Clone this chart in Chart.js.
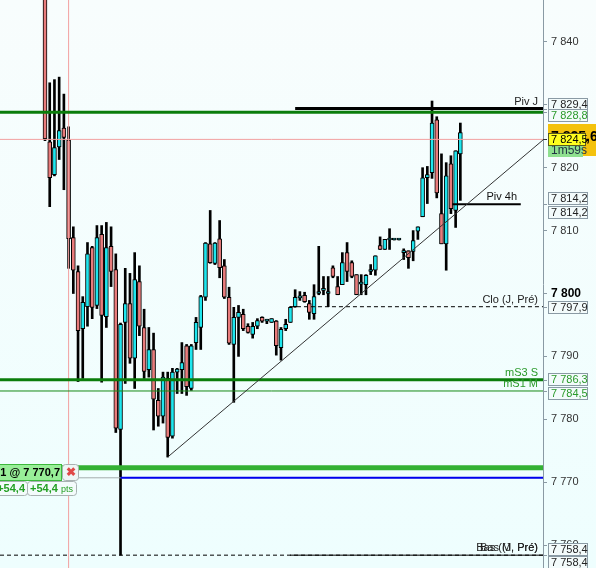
<!DOCTYPE html>
<html><head><meta charset="utf-8">
<script src="https://cdn.jsdelivr.net/npm/chart.js@4/dist/chart.umd.min.js"></script>
<style>html,body{margin:0;padding:0;background:#f2fdfd;}canvas{display:block;}</style>
</head><body>
<canvas id="c" width="596" height="568"></canvas>
<script>
// ---- data ----
const opens = [7852,7824.1,7818.9,7823.3,7826.3,7824.4,7808.9,7803.5,7794.4,7797.9,
7807.3,7798.1,7809.4,7796.3,7807.5,7803.8,7778.4,7795.4,7798.4,7789.7,
7801.9,7794.6,7787.9,7791.1,7783.0,7780.5,7786.5,7777.3,7787.5,7787.9,
7791.7,7784.9,7792.2,7794.6,7799.4,7807.9,7804.8,7808.7,7804.4,7799.4,
7791.9,7796.2,7796.7,7794.8,7793.5,7794.8,7796.2,7795.6,7795.4,7795.6,
7791.4,7794.4,7795.4,7797.9,7799.3,7799.7,7798.4,7796.8,7800.0,7800.5,
7800.0,7804.1,7801.1,7801.4,7806.5,7804.9,7803.0,7801.5,7801.4,7803.5,
7803.7,7807.6,7807.0,7808.5,7808.5,7808.5,7806.5,7806.8,7806.7,7809.9,
7812.2,7818.4,7819.2,7827.6,7812.7,7807.9,7820.6,7813.2,7822.2];
const highs = [7856,7833.5,7834.0,7834.4,7831.7,7826.5,7810.6,7804.4,7799.5,7808.1,
7807.5,7810.8,7810.8,7811.3,7810.6,7806.3,7795.3,7804.0,7803.2,7806.5,
7804.4,7797.5,7794.6,7793.7,7784.9,7787.5,7787.5,7788.1,7788.1,7792.2,
7791.9,7791.9,7796.2,7799.7,7808.1,7813.2,7808.1,7811.6,7805.4,7801.0,
7797.8,7798.1,7797.5,7795.2,7795.4,7796.0,7796.3,7795.9,7796.0,7795.7,
7794.6,7795.9,7797.9,7800.6,7800.3,7800.2,7798.9,7801.4,7807.5,7802.7,
7802.7,7804.4,7802.7,7806.5,7808.1,7805.2,7803.0,7803.0,7803.0,7804.6,
7806.0,7809.0,7808.6,7810.3,7808.7,7808.7,7807.1,7806.8,7810.0,7810.6,
7820.0,7820.2,7830.6,7828.1,7822.2,7820.8,7821.9,7822.7,7827.1];
const lows = [7824.3,7813.8,7818.7,7821.3,7816.5,7804.0,7800.0,7786.0,7786.5,7794.8,
7796.0,7797.6,7785.9,7794.6,7801.1,7777.9,7758.4,7785.7,7788.9,7784.9,
7793.3,7786.5,7786.7,7778.3,7778.9,7779.4,7774.0,7777.0,7784.1,7784.1,
7783.8,7784.6,7791.1,7791.1,7798.9,7804.8,7804.6,7802.5,7799.2,7791.9,
7782.7,7790.0,7794.1,7793.7,7792.9,7794.4,7795.4,7795.2,7795.4,7790.2,
7789.4,7794.1,7795.4,7797.8,7798.9,7798.6,7795.9,7795.9,7799.8,7799.8,
7797.9,7802.5,7799.8,7801.4,7801.9,7802.5,7799.8,7799.8,7799.8,7803.0,
7802.9,7807.0,7807.0,7807.0,7808.5,7808.5,7805.4,7804.0,7805.2,7808.6,
7812.2,7814.3,7818.3,7815.2,7807.9,7803.7,7812.7,7810.5,7814.8];
const closes = [7824.6,7818.4,7823.2,7825.9,7824.8,7808.7,7803.7,7794.1,7798.6,7806.3,
7797.8,7808.9,7796.5,7807.3,7803.5,7778.6,7795.1,7798.4,7789.7,7802.2,
7794.8,7787.6,7791.1,7783.2,7780.5,7786.7,7777.1,7787.5,7788.0,7789.0,
7785.2,7791.7,7795.4,7799.5,7808.0,7804.9,7808.0,7804.1,7799.4,7792.1,
7796.2,7797.0,7794.4,7793.8,7794.8,7795.7,7795.6,7795.9,7796.0,7791.7,
7794.3,7795.1,7797.8,7799.4,7799.5,7798.7,7797.0,7799.5,7800.2,7800.6,
7800.1,7802.7,7799.8,7804.9,7803.5,7802.7,7799.8,7801.6,7802.9,7803.6,
7806.0,7807.0,7808.6,7808.6,7808.6,7808.6,7806.6,7805.7,7808.4,7810.6,
7818.4,7818.9,7827.1,7816.0,7807.9,7818.7,7813.5,7822.7,7825.6];

const yTicks = [7760,7770,7780,7790,7800,7810,7820,7830,7840];
const levelNames  = ['Piv J','Piv 4h','Clo (J, Pré)','mS3 S','mS1 M','Bas (J, Pré)','Bas (M, Pré)'];
const levelValues = [7829.4, 7814.2, 7797.9, 7786.3, 7784.5, 7758.4, 7758.4];
const greenLevel = 7828.8;
const secondPiv4h = 7814.2;
const lastPrice = 7825.6;
const crossPrice = 7824.5;
const crossIndex = 5;
const timerText = '1m59s';
const entryPrice = 7770.7;
const stopPrice = 7772.3;
const entryIndex = 16;
const tradeQty = 1;
const tradePts = 54.4;
const trendIdx = [26, 105.5];
const trendVal = [7774.0, 7824.4];

// ---- helpers ----
const FONT = 'Liberation Sans, Arial, sans-serif';
const X_MIN = -9.534, X_MAX = 105.51;
const fmt = (v, d) => { const s = v.toFixed(d).replace('.', ','); const ip = Math.floor(v); return Math.floor(ip/1000) + ' ' + s.slice(String(Math.floor(ip/1000)).length); };
const idx = opens.map((_, i) => i);
const CYAN = '#1fe6ee', PINK = '#e87c7c';

function hline(v, from, to, color, width, dash, order) {
  return { type: 'line', data: [{x: from, y: v}, {x: to, y: v}], borderColor: color, borderWidth: width,
    borderDash: dash || [], pointRadius: 0, fill: false, order: order === undefined ? 1 : order, tension: 0 };
}

const datasets = [
  { type: 'bar', data: idx.map(i => ({x: i, y: [lows[i], highs[i]]})), backgroundColor: '#000',
    barThickness: 2, grouped: false, order: 10 },
  { type: 'bar', data: idx.map(i => ({x: i, y: [opens[i], closes[i]]})),
    backgroundColor: idx.map(i => closes[i] >= opens[i] ? CYAN : PINK), borderColor: '#000', borderWidth: 1,
    borderSkipped: false, barThickness: 4, minBarLength: 2, grouped: false, order: 9 },
  hline(crossPrice, X_MIN, X_MAX, '#f2a0a0', 1, null, 5),
  { type: 'line', data: [{x: crossIndex, y: 7700}, {x: crossIndex, y: 7900}], borderColor: '#f2a0a0', borderWidth: 1, pointRadius: 0, order: 5 },
  hline(levelValues[5], X_MIN, X_MAX, '#000', 1, [4, 3], 2),
  hline(levelValues[6], 51.9, X_MAX, '#000', 1, null, 2),
  hline(levelValues[2], 51.9, X_MAX, '#000', 1, [4, 3], 2),
  hline(levelValues[4], X_MIN, X_MAX, '#168a16', 1, null, 2),
  hline(levelValues[3], X_MIN, X_MAX, '#0b7d0b', 3, null, 2),
  hline(greenLevel, X_MIN, X_MAX, '#0b7d0b', 3, null, 2),
  hline(levelValues[0], 53, X_MAX, '#000', 3, null, 1),
  hline(levelValues[1], 86.3, 100.8, '#000', 2, null, 1),
  hline(stopPrice, X_MIN, X_MAX, '#33b133', 5, null, 1),
  hline(entryPrice, X_MIN, X_MAX, '#a4adad', 1, null, 1),
  hline(entryPrice, entryIndex, X_MAX, '#0000ee', 2, null, 0),
  { type: 'line', data: [{x: trendIdx[0], y: trendVal[0]}, {x: trendIdx[1], y: trendVal[1]}], borderColor: '#333', borderWidth: 1, pointRadius: 0, order: 0 }
];

function rrect(ctx, x, y, w, h, r) {
  ctx.beginPath(); ctx.moveTo(x + r, y); ctx.lineTo(x + w - r, y); ctx.quadraticCurveTo(x + w, y, x + w, y + r);
  ctx.lineTo(x + w, y + h - r); ctx.quadraticCurveTo(x + w, y + h, x + w - r, y + h); ctx.lineTo(x + r, y + h);
  ctx.quadraticCurveTo(x, y + h, x, y + h - r); ctx.lineTo(x, y + r); ctx.quadraticCurveTo(x, y, x + r, y); ctx.closePath();
}

const overlay = {
  id: 'overlay',
  beforeDraw(chart) {
    const {ctx, width, height} = chart;
    const g = ctx.createLinearGradient(0, 0, 0, height);
    g.addColorStop(0, '#f8fdfd'); g.addColorStop(1, '#eefefe');
    ctx.save(); ctx.fillStyle = g; ctx.fillRect(0, 0, width, height); ctx.restore();
  },
  afterDraw(chart) {
    const {ctx} = chart; const ys = chart.scales.y; const area = chart.chartArea;
    const py = v => ys.getPixelForValue(v);
    ctx.save();
    // level names
    ctx.font = '11px ' + FONT; ctx.textBaseline = 'middle'; ctx.textAlign = 'right';
    const nameX = [538, 517, 538, 538, 538, 538, 538];
    const nameCol = ['#222', '#111', '#222', '#2a9a2a', '#2a9a2a', '#222', '#222'];
    levelNames.forEach((n, i) => { ctx.fillStyle = nameCol[i]; ctx.fillText(n, nameX[i], py(levelValues[i]) - 7); });

    // right boxes
    const bx = area.right + 5;
    const box = (v, txt, col, dy, bg, border, font) => {
      const y = py(v) + dy;
      ctx.strokeStyle = '#8a9aa4'; ctx.lineWidth = 1; ctx.beginPath(); ctx.moveTo(area.right, Math.round(py(v)) + 0.5); ctx.lineTo(area.right + 4, Math.round(py(v)) + 0.5); ctx.stroke();
      ctx.fillStyle = bg || '#f3fbfb'; ctx.fillRect(bx, Math.round(y - 6), 40, 12);
      ctx.strokeStyle = border || '#8a9aa4'; ctx.strokeRect(bx + 0.5, Math.round(y - 6) + 0.5, 39, 12);
      ctx.fillStyle = col; ctx.font = font || ('11px ' + FONT); ctx.textAlign = 'left'; ctx.textBaseline = 'middle';
      ctx.fillText(txt, bx + 3, Math.round(y) + 1);
    };
    box(levelValues[0], fmt(levelValues[0], 1), '#222', -5);
    box(greenLevel, fmt(greenLevel, 1), '#2a9a2a', 3);
    box(levelValues[1], fmt(levelValues[1], 1), '#222', -6);
    box(secondPiv4h, fmt(secondPiv4h, 1), '#222', 8);
    box(levelValues[2], fmt(levelValues[2], 1), '#222', 0);
    box(levelValues[3], fmt(levelValues[3], 1), '#2a9a2a', -1);
    box(levelValues[4], fmt(levelValues[4], 1), '#2a9a2a', 2);
    box(levelValues[5], fmt(levelValues[5], 1), '#222', -6);
    box(levelValues[6], fmt(levelValues[6], 1), '#222', 7);

    // last price (orange), timer (green), cross price (yellow)
    const lp = py(lastPrice);
    ctx.fillStyle = '#f4c20d'; ctx.fillRect(bx, Math.round(lp - 8), 60, 32);
    ctx.fillStyle = '#000'; ctx.font = 'bold 14px ' + FONT; ctx.textAlign = 'left'; ctx.textBaseline = 'alphabetic';
    ctx.fillText(fmt(lastPrice, 1), bx + 3, Math.round(lp) + 9);
    ctx.fillStyle = '#8fe08f'; ctx.fillRect(bx, Math.round(lp + 12), 35, 13);
    ctx.fillStyle = '#223344'; ctx.font = '12px ' + FONT; ctx.textBaseline = 'middle';
    ctx.fillText(timerText, bx + 3, Math.round(lp + 19));
    const cp = py(crossPrice);
    ctx.fillStyle = '#ffff1e'; ctx.fillRect(bx, Math.round(cp - 6), 38, 12);
    ctx.strokeStyle = '#5a5a20'; ctx.strokeRect(bx + 0.5, Math.round(cp - 6) + 0.5, 37, 12);
    ctx.fillStyle = '#000'; ctx.font = '11px ' + FONT; ctx.fillText(fmt(crossPrice, 1), bx + 3, Math.round(cp) + 1);
    ctx.strokeStyle = '#333'; ctx.beginPath(); ctx.moveTo(area.right, Math.round(cp) + 0.5); ctx.lineTo(area.right + 4, Math.round(cp) + 0.5); ctx.stroke();

    // trade widget
    const ep = Math.round(py(entryPrice));
    const top = ep - 14;
    ctx.fillStyle = '#98ee98'; ctx.fillRect(-5, top, 67, 17);
    ctx.strokeStyle = '#3cb83c'; ctx.lineWidth = 1; ctx.strokeRect(-4.5, top + 0.5, 66, 16);
    ctx.fillStyle = '#000'; ctx.font = 'bold 11px ' + FONT; ctx.textAlign = 'right'; ctx.textBaseline = 'middle';
    ctx.fillText(tradeQty + ' @ ' + fmt(entryPrice, 1), 60, top + 9);
    ctx.fillStyle = '#eef6f6'; rrect(ctx, 62.5, top + 0.5, 16, 16, 3); ctx.fill();
    ctx.strokeStyle = '#a8b2b2'; ctx.stroke();
    ctx.fillStyle = '#e04848'; ctx.font = 'bold 12px ' + FONT; ctx.textAlign = 'center';
    ctx.fillText('\u2716', 71, top + 9);
    // pts boxes
    const t2 = top + 17;
    ctx.fillStyle = '#f3fbfb'; rrect(ctx, -5.5, t2 + 0.5, 33, 14, 3); ctx.fill(); ctx.strokeStyle = '#a8b2b2'; ctx.stroke();
    rrect(ctx, 27.5, t2 + 0.5, 49, 14, 3); ctx.fillStyle = '#f3fbfb'; ctx.fill(); ctx.stroke();
    const ptsTxt = '+' + tradePts.toFixed(1).replace('.', ',');
    ctx.fillStyle = '#24a024'; ctx.font = 'bold 11px ' + FONT; ctx.textAlign = 'right';
    ctx.fillText(ptsTxt, 25, t2 + 8);
    ctx.textAlign = 'left'; ctx.fillText(ptsTxt, 30, t2 + 8);
    ctx.font = '9px ' + FONT; ctx.fillText('pts', 61, t2 + 9);
    ctx.restore();
  }
};

new Chart(document.getElementById('c'), {
  type: 'bar',
  data: { datasets },
  options: {
    responsive: false, animation: false, devicePixelRatio: 1,
    layout: { padding: 0 },
    plugins: { legend: { display: false }, tooltip: { enabled: false } },
    scales: {
      x: { type: 'linear', min: X_MIN, max: X_MAX, offset: false, display: false },
      y: {
        position: 'right', min: 7756.36, max: 7846.66,
        afterBuildTicks: s => { s.ticks = yTicks.map(v => ({value: v})); },
        afterFit: s => { s.width = 53; s.paddingTop = 0; s.paddingBottom = 0; },
        grid: { drawOnChartArea: false, drawTicks: true, tickLength: 4, color: '#8a9aa4' },
        border: { display: true, color: '#8a9aa4' },
        ticks: {
          padding: 4,
          color: ctx => ctx.tick && ctx.tick.value === 7800 ? '#000' : '#333',
          font: ctx => ctx.tick && ctx.tick.value === 7800 ? {family: FONT, size: 12, weight: 'bold'} : {family: FONT, size: 11},
          callback: v => Math.floor(v / 1000) + ' ' + String(v % 1000).padStart(3, '0')
        }
      }
    }
  },
  plugins: [overlay]
});
</script>
</body></html>
